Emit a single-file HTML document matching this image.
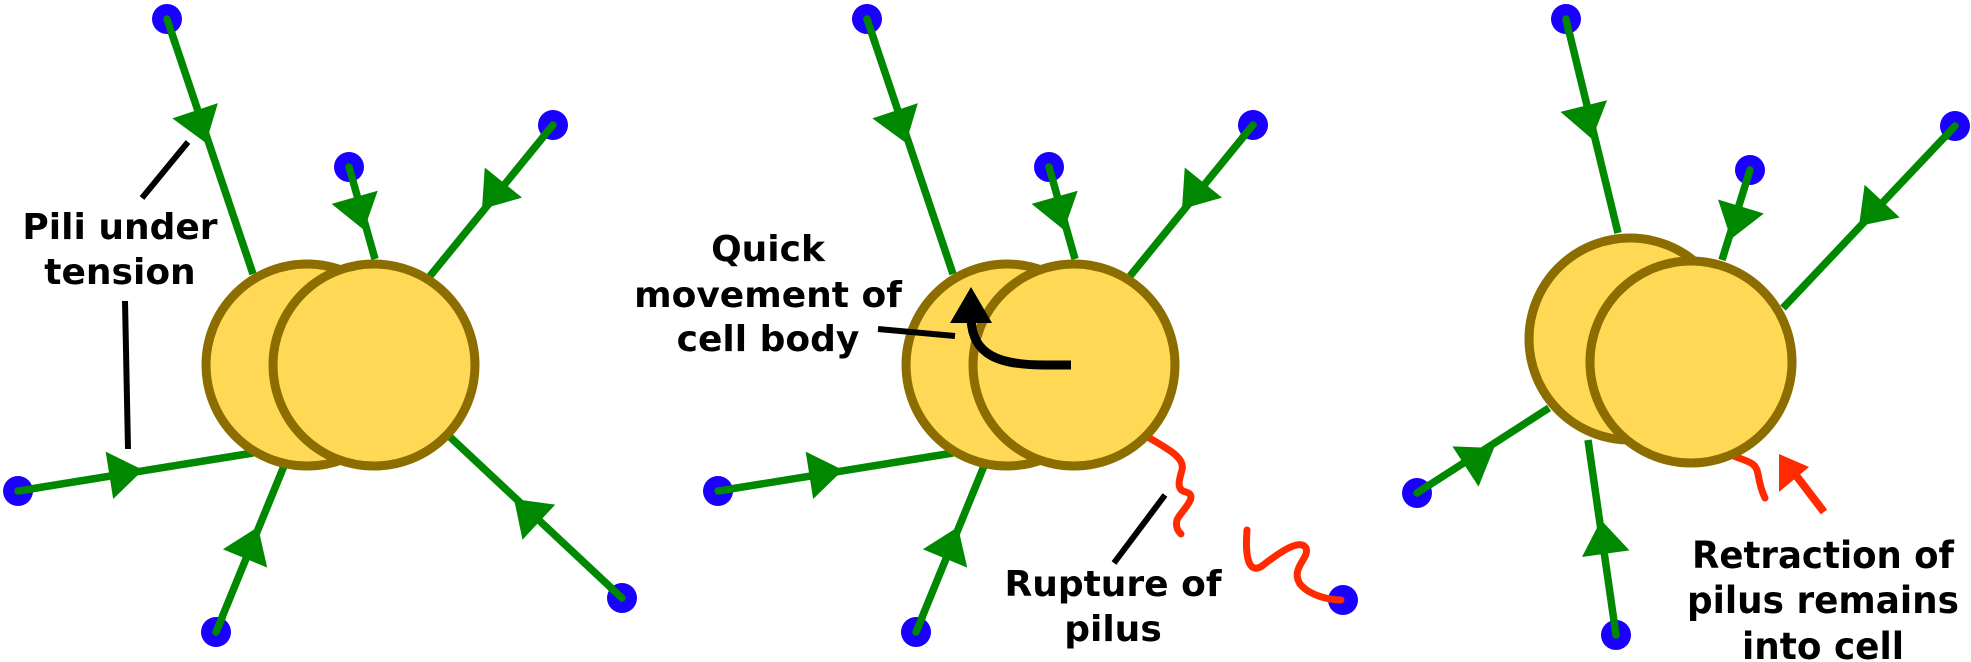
<!DOCTYPE html>
<html><head><meta charset="utf-8"><style>html,body{margin:0;padding:0;background:#fff}svg{display:block}</style></head>
<body>
<svg width="1971" height="662" viewBox="0 0 1971 662" xmlns="http://www.w3.org/2000/svg">
<defs>
<polygon id="ah" points="0,0 -34,-24 -34,24" fill="#008800"/>
</defs>
<g font-family="'DejaVu Sans','Liberation Sans',sans-serif" font-weight="bold" font-size="36" fill="#000" text-anchor="middle">
<!-- PANEL 1 -->
<g stroke="#008800" stroke-width="7.5" fill="none">
<line x1="167" y1="19" x2="253" y2="274"/>
<line x1="349" y1="167" x2="375" y2="259"/>
<line x1="553" y1="125" x2="430" y2="276"/>
<line x1="18" y1="491" x2="253" y2="453"/>
<line x1="216" y1="632" x2="284" y2="466"/>
<line x1="622" y1="598" x2="449" y2="436"/>
</g>
<g fill="#1a00ff"><circle cx="167" cy="19" r="15"/><circle cx="349" cy="167" r="15"/><circle cx="553" cy="125" r="15"/><circle cx="18" cy="491" r="15"/><circle cx="216" cy="632" r="15"/><circle cx="622" cy="598" r="15"/></g>
<g stroke="#008800" stroke-width="7.5" stroke-linecap="round">
<line x1="167" y1="19" x2="175" y2="43"/><line x1="349" y1="167" x2="353" y2="181"/><line x1="553" y1="125" x2="543" y2="137"/><line x1="18" y1="491" x2="32" y2="489"/><line x1="216" y1="632" x2="222" y2="618"/><line x1="622" y1="598" x2="611" y2="588"/>
</g>
<use href="#ah" transform="translate(206,143) rotate(71.4)"/>
<use href="#ah" transform="translate(364,230) rotate(74)"/>
<use href="#ah" transform="translate(482,209) rotate(129)"/>
<use href="#ah" transform="translate(143,470) rotate(-9)"/>
<use href="#ah" transform="translate(258,527) rotate(-67.6)"/>
<use href="#ah" transform="translate(514,499) rotate(-137)"/>
<circle cx="307" cy="365" r="101" fill="#ffd955" stroke="#8c6d00" stroke-width="9"/>
<circle cx="374" cy="365" r="101" fill="#ffd955" stroke="#8c6d00" stroke-width="9"/>
<g stroke="#000" stroke-width="6"><line x1="188" y1="142" x2="142" y2="198"/><line x1="125" y1="301" x2="128" y2="449"/></g>
<text x="120" y="239">Pili under</text>
<text x="120" y="284">tension</text>

<!-- PANEL 2 -->
<g stroke="#008800" stroke-width="7.5" fill="none">
<line x1="867" y1="19" x2="953" y2="274"/>
<line x1="1049" y1="167" x2="1075" y2="259"/>
<line x1="1253" y1="125" x2="1130" y2="276"/>
<line x1="718" y1="491" x2="953" y2="453"/>
<line x1="916" y1="632" x2="984" y2="466"/>
</g>
<g fill="#1a00ff"><circle cx="867" cy="19" r="15"/><circle cx="1049" cy="167" r="15"/><circle cx="1253" cy="125" r="15"/><circle cx="718" cy="491" r="15"/><circle cx="916" cy="632" r="15"/><circle cx="1343" cy="600" r="15"/></g>
<g stroke="#008800" stroke-width="7.5" stroke-linecap="round">
<line x1="867" y1="19" x2="875" y2="43"/><line x1="1049" y1="167" x2="1053" y2="181"/><line x1="1253" y1="125" x2="1243" y2="137"/><line x1="718" y1="491" x2="732" y2="489"/><line x1="916" y1="632" x2="922" y2="618"/>
</g>
<use href="#ah" transform="translate(906,143) rotate(71.4)"/>
<use href="#ah" transform="translate(1064,230) rotate(74)"/>
<use href="#ah" transform="translate(1182,209) rotate(129)"/>
<use href="#ah" transform="translate(843,470) rotate(-9)"/>
<use href="#ah" transform="translate(958,527) rotate(-67.6)"/>
<path d="M1146,436 C1170,450 1185,458 1182,470 C1179,480 1176,490 1186,492 C1200,496 1180,512 1177,520 C1175,528 1179,532 1181,534" stroke="#ff2a00" stroke-width="7" fill="none" stroke-linecap="round"/>
<path d="M1247,530 C1245,555 1248,575 1262,566 C1280,552 1300,538 1306,548 C1310,558 1290,568 1300,584 C1310,596 1330,600 1341,600" stroke="#ff2a00" stroke-width="7" fill="none" stroke-linecap="round"/>
<circle cx="1007" cy="365" r="101" fill="#ffd955" stroke="#8c6d00" stroke-width="9"/>
<circle cx="1074" cy="365" r="101" fill="#ffd955" stroke="#8c6d00" stroke-width="9"/>
<path d="M1071,365 L1045,365 C1000,365 972,356 971,318" stroke="#000" stroke-width="9" fill="none"/>
<polygon points="971,287 950,323 992,323" fill="#000"/>
<g stroke="#000" stroke-width="6"><line x1="878" y1="329" x2="955" y2="336"/><line x1="1165" y1="495" x2="1114" y2="563"/></g>
<text x="768" y="261">Quick</text>
<text x="768" y="307">movement of</text>
<text x="768" y="351">cell body</text>
<text x="1113" y="596">Rupture of</text>
<text x="1113" y="641">pilus</text>

<!-- PANEL 3 -->
<g stroke="#008800" stroke-width="7.5" fill="none">
<line x1="1566" y1="19" x2="1618" y2="233"/>
<line x1="1750" y1="170" x2="1722" y2="260"/>
<line x1="1955" y1="126" x2="1783" y2="308"/>
<line x1="1417" y1="493" x2="1549" y2="408"/>
<line x1="1616" y1="635" x2="1588" y2="440"/>
</g>
<g fill="#1a00ff"><circle cx="1566" cy="19" r="15"/><circle cx="1750" cy="170" r="15"/><circle cx="1955" cy="126" r="15"/><circle cx="1417" cy="493" r="15"/><circle cx="1616" cy="635" r="15"/></g>
<g stroke="#008800" stroke-width="7.5" stroke-linecap="round">
<line x1="1566" y1="19" x2="1569" y2="33"/><line x1="1750" y1="170" x2="1746" y2="183"/><line x1="1955" y1="126" x2="1945" y2="137"/><line x1="1417" y1="493" x2="1429" y2="485"/><line x1="1616" y1="635" x2="1614" y2="621"/>
</g>
<use href="#ah" transform="translate(1592,139) rotate(76)"/>
<use href="#ah" transform="translate(1731,239) rotate(107)"/>
<use href="#ah" transform="translate(1859,226) rotate(133)"/>
<use href="#ah" transform="translate(1494,448) rotate(-33)"/>
<use href="#ah" transform="translate(1601,520) rotate(-98)"/>
<circle cx="1630" cy="339" r="101" fill="#ffd955" stroke="#8c6d00" stroke-width="9"/>
<path d="M1734,456 C1748,462 1756,462 1758,474 C1760,486 1762,492 1765,498" stroke="#ff2a00" stroke-width="7" fill="none" stroke-linecap="round"/>
<circle cx="1691" cy="362" r="101" fill="#ffd955" stroke="#8c6d00" stroke-width="9"/>
<line x1="1824" y1="512" x2="1795" y2="474" stroke="#ff2a00" stroke-width="8"/>
<polygon points="1779,454 1779,492 1809,467" fill="#ff2a00"/>
<g font-family="'DejaVu Sans Condensed','DejaVu Sans',sans-serif" font-size="37">
<text x="1823" y="568" textLength="262" lengthAdjust="spacingAndGlyphs">Retraction of</text>
<text x="1823" y="613" textLength="272" lengthAdjust="spacingAndGlyphs">pilus remains</text>
<text x="1823" y="659" textLength="162" lengthAdjust="spacingAndGlyphs">into cell</text>
</g>
</g>
</svg>
</body></html>
